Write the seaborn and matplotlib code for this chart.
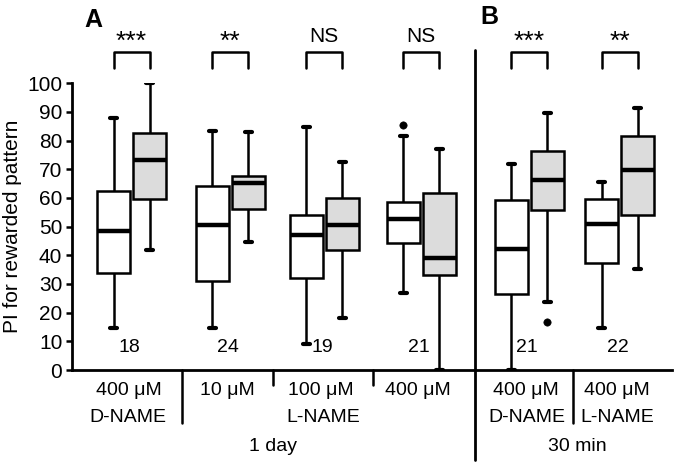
import matplotlib
matplotlib.use("Agg")
import matplotlib.pyplot as plt
import pandas as pd
import seaborn as sns

# Five-number summaries, one entry per box
# (order: pair1 ctrl, pair1 drug, pair2 ctrl, ...)
LOW = [14.5, 41.8, 14.7, 44.5, 9.1, 18.1, 26.9, 0.0, 0.0, 23.8, 14.5, 35.1]
Q1 = [33.7, 59.6, 31.1, 56.3, 32.2, 41.8, 44.4, 33.1, 26.5, 55.7, 37.4, 54.0]
MEDIAN = [48.5, 73.2, 50.5, 65.2, 47.0, 50.5, 52.8, 39.1, 42.2, 66.4, 50.9, 69.9]
Q3 = [62.4, 82.7, 64.2, 67.7, 54.0, 60.0, 58.6, 61.8, 59.2, 76.3, 59.6, 81.5]
HIGH = [87.9, 100.0, 83.3, 82.9, 84.8, 72.4, 81.5, 77.0, 71.8, 89.8, 65.5, 91.5]
GROUP = ["ctrl", "drug"] * 6

# outliers: (box index, value)
OUTLIER_BOX = [6, 9]
OUTLIER_VAL = [85.4, 16.6]

N_LABELS = ["18", "24", "19", "21", "21", "22"]
SIGNIF = ["***", "**", "NS", "NS", "***", "**"]
DOSE = ["400 μM", "10 μM", "100 μM", "400 μM", "400 μM", "400 μM"]

# layout (x in pixel-like units of the axes)
PAIR_X = [131.5, 230.3, 324.0, 421.2, 529.2, 619.5]
HALF = 18.0

pos = [c + s for c in PAIR_X for s in (-HALF, HALF)]
rows = []
for i in range(12):
    for v in (LOW[i], Q1[i], MEDIAN[i], Q3[i], HIGH[i]):
        rows.append({"pos": pos[i], "PI": v, "group": GROUP[i]})
df = pd.DataFrame(rows)
out_df = pd.DataFrame({"pos": [pos[i] for i in OUTLIER_BOX], "PI": OUTLIER_VAL})

sns.set_style("ticks")
plt.rcParams["font.family"] = ["Liberation Sans", "DejaVu Sans"]
plt.rcParams.update({"text.color": "black", "axes.labelcolor": "black",
                     "xtick.color": "black", "ytick.color": "black",
                     "axes.edgecolor": "black"})

fig = plt.figure(figsize=(6.78, 4.68), dpi=100)
ax = fig.add_axes([72 / 678, 98 / 468, 600 / 678, 286.7 / 468])

sns.boxplot(
    data=df, x="pos", y="PI", hue="group", native_scale=True, dodge=False,
    palette={"ctrl": "white", "drug": "#dcdcdc"}, linecolor="black",
    linewidth=1.8, width=33 / 36, whis=(0, 100), legend=False, ax=ax,
    medianprops={"linewidth": 3.2}, capprops={"linewidth": 3.0},
    capwidths=7,
)
sns.scatterplot(data=out_df, x="pos", y="PI", color="black", s=28,
                edgecolor="black", ax=ax, zorder=5)

ax.set_xlim(72, 672)
ax.set_ylim(0, 100)
ax.set_yticks(range(0, 101, 10))
ax.set_xticks([])
ax.set_xlabel("")
ax.set_ylabel("PI for rewarded pattern", fontsize=15, labelpad=4)
ax.tick_params(axis="y", labelsize=15, length=4, width=1.8, pad=3)
for sp in ("top", "right"):
    ax.spines[sp].set_visible(False)
for sp in ("left", "bottom"):
    ax.spines[sp].set_linewidth(2)

kw = dict(color="black", lw=1.8, clip_on=False)
for i, c in enumerate(PAIR_X):
    x0, x1 = c - HALF, c + HALF
    ax.plot([x0, x0, x1, x1], [105.4, 110.8, 110.8, 105.4], **kw)
    if SIGNIF[i] == "NS":
        ax.text(c, 116.3, SIGNIF[i], ha="center", va="center", fontsize=15)
    else:
        ax.text(c, 114.3, SIGNIF[i], ha="center", va="center", fontsize=19)
    ax.text(c - 2, 8.0, N_LABELS[i], ha="center", va="center", fontsize=14)
    ax.text(c - 3, -7.0, DOSE[i], ha="center", va="center", fontsize=14)

ax.text(128, -16.4, "D-NAME", ha="center", va="center", fontsize=14)
ax.text(323, -16.4, "L-NAME", ha="center", va="center", fontsize=14)
ax.text(527, -16.4, "D-NAME", ha="center", va="center", fontsize=14)
ax.text(617, -16.4, "L-NAME", ha="center", va="center", fontsize=14)
ax.text(273, -26.6, "1 day", ha="center", va="center", fontsize=14)
ax.text(577, -26.6, "30 min", ha="center", va="center", fontsize=14)

# group separators below the axis
for x in (182, 573):
    ax.plot([x, x], [0, -18.5], **kw)
for x in (273, 373):
    ax.plot([x, x], [0, -5.2], **kw)
ax.plot([475, 475], [111.5, -31.4], color="black", lw=2, clip_on=False)

ax.text(93, 122, "A", ha="center", va="center", fontsize=18, fontweight="bold")
ax.text(489, 123, "B", ha="center", va="center", fontsize=18, fontweight="bold")

fig.savefig("out.png", dpi=100)
